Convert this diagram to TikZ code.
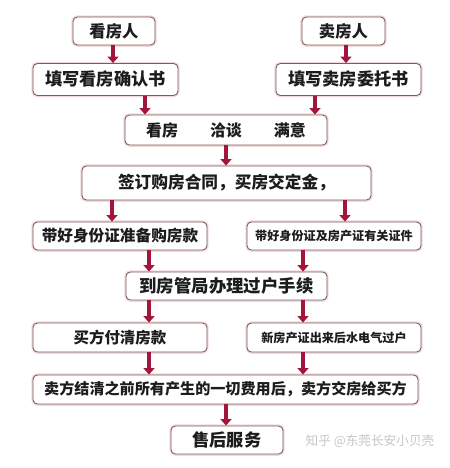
\documentclass[tikz,border=0pt]{standalone}
\usepackage{fontspec}
\newfontfamily\cjk{Noto Sans CJK SC}
\usepackage{tikz}
\usetikzlibrary{arrows.meta,positioning}

\definecolor{boxline}{HTML}{7B5C5C}
\definecolor{boxglow}{HTML}{F3DADA}
\definecolor{arrowred}{HTML}{A3153A}
\definecolor{textdark}{HTML}{1C1C1C}

\begin{document}
\begin{tikzpicture}[x=0.02cm, y=-0.02cm,
    step box/.style={draw=boxline, line width=0.5pt, rounded corners=2.5pt,
                     fill=white, inner sep=0pt, minimum height=0.56cm,
                     text=textdark, fs=9.5,
                     preaction={draw=boxglow, line width=2pt}},
    fs/.style={font=\cjk\bfseries\fontsize{#1}{#1}\selectfont},
    flow/.style={-{Triangle[length=0.13cm, width=0.22cm]}, arrowred,
                 line width=0.09cm},
    watermark/.style={text=gray!45, font=\cjk\fontsize{7.2}{9}\selectfont},
  ]
  \useasboundingbox (0,0) rectangle (450,468);

  \node[step box, fs=9.3, minimum width=1.64cm] (viewer) at (114,31) {看房人};
  \node[step box, fs=9.3, minimum width=1.66cm] (seller) at (343.5,31) {卖房人};
  \node[step box, fs=9.8, minimum width=2.9cm, minimum height=0.64cm] (viewform) at (105.5,79.5) {填写看房确认书};
  \node[step box, fs=9.8, minimum width=2.9cm, minimum height=0.64cm] (sellform) at (348.5,79.5) {填写卖房委托书};
  \node[step box, fs=9.1, minimum width=4.04cm, minimum height=0.6cm] (talk) at (226,130) {看房\quad\quad 洽谈\quad\quad 满意};
  \node[step box, fs=9.5, minimum width=5.78cm, minimum height=0.68cm] (contract) at (226.5,183) {签订购房合同，买房交定金，};
  \node[step box, fs=8.9, minimum width=3.48cm] (buyprep) at (120,236) {带好身份证准备购房款};
  \node[step box, fs=6.9, minimum width=3.48cm] (sellprep) at (334,236) {带好身份证及房产证有关证件};
  \node[step box, fs=9.9, minimum width=4.02cm] (transfer) at (226.5,286) {到房管局办理过户手续};
  \node[step box, fs=8.8, minimum width=3.48cm, minimum height=0.58cm] (payoff) at (120,337.5) {买方付清房款};
  \node[step box, fs=6.9, minimum width=3.48cm, minimum height=0.58cm] (newcert) at (334,337.5) {新房产证出来后水电气过户};
  \node[step box, fs=8.6, minimum width=7.7cm, minimum height=0.58cm] (handover) at (225.5,389.5) {卖方结清之前所有产生的一切费用后，卖方交房给买方};
  \node[step box, fs=9.8, minimum width=2.24cm] (service) at (227,440) {售后服务};

  % watermark
  \node[watermark] (zhihu) at (370,441) {知乎 @东莞长安小贝壳};

  \draw[flow] (viewer.south -| 113,0) -- (viewform.north -| 113,0);
  \draw[flow] (seller.south -| 346,0) -- (sellform.north -| 346,0);
  \draw[flow] (viewform.south -| 145,0) -- (talk.north -| 145,0);
  \draw[flow] (sellform.south -| 315,0) -- (talk.north -| 315,0);
  \draw[flow] (talk.south -| 226,0) -- (contract.north -| 226,0);
  \draw[flow] (contract.south -| 112,0) -- (buyprep.north -| 112,0);
  \draw[flow] (contract.south -| 345,0) -- (sellprep.north -| 345,0);
  \draw[flow] (buyprep.south -| 149,0) -- (transfer.north -| 149,0);
  \draw[flow] (sellprep.south -| 303,0) -- (transfer.north -| 303,0);
  \draw[flow] (transfer.south -| 149,0) -- (payoff.north -| 149,0);
  \draw[flow] (transfer.south -| 303,0) -- (newcert.north -| 303,0);
  \draw[flow] (payoff.south -| 149,0) -- (handover.north -| 149,0);
  \draw[flow] (newcert.south -| 303,0) -- (handover.north -| 303,0);
  \draw[flow] (handover.south -| 226,0) -- (service.north -| 226,0);
\end{tikzpicture}
\end{document}
